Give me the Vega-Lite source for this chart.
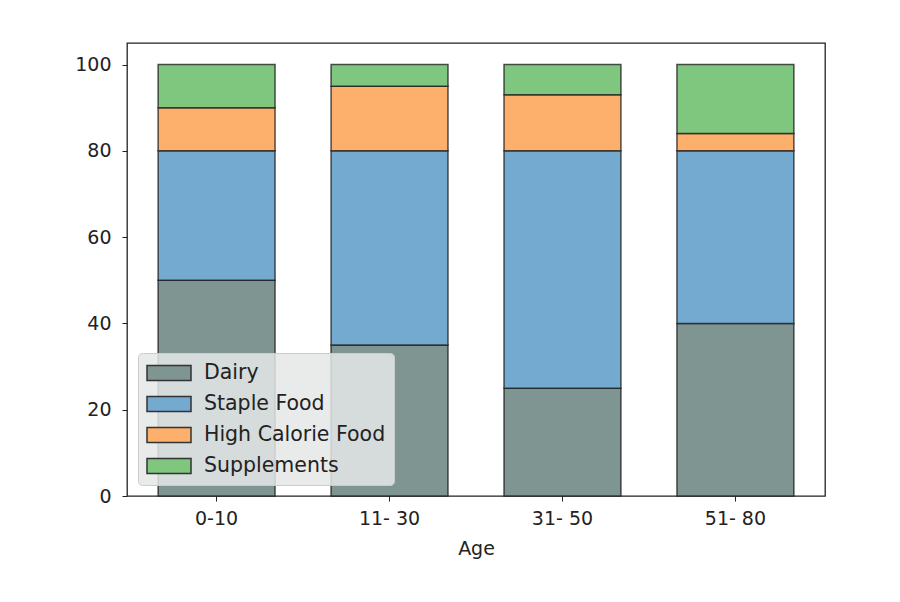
{
  "$schema": "https://vega.github.io/schema/vega-lite/v6.json",
  "width": 698,
  "height": 453,
  "autosize": {"type": "none"},
  "padding": {"left": 127, "top": 43, "right": 75, "bottom": 106},
  "background": "white",
  "config": {
    "font": "DejaVu Sans",
    "view": {"stroke": "#222222", "strokeWidth": 1.3},
    "axis": {"grid": false, "domain": false, "tickColor": "#222222", "tickSize": 5, "labelColor": "#222222", "labelFontSize": 19, "titleFontSize": 19, "titleFontWeight": "normal", "titleColor": "#222222"}
  },
  "data": {
    "values": [
      {"Age": "0-10", "Category": "Dairy", "Value": 50, "ord": 1},
      {"Age": "0-10", "Category": "Staple Food", "Value": 30, "ord": 2},
      {"Age": "0-10", "Category": "High Calorie Food", "Value": 10, "ord": 3},
      {"Age": "0-10", "Category": "Supplements", "Value": 10, "ord": 4},
      {"Age": "11- 30", "Category": "Dairy", "Value": 35, "ord": 1},
      {"Age": "11- 30", "Category": "Staple Food", "Value": 45, "ord": 2},
      {"Age": "11- 30", "Category": "High Calorie Food", "Value": 15, "ord": 3},
      {"Age": "11- 30", "Category": "Supplements", "Value": 5, "ord": 4},
      {"Age": "31- 50", "Category": "Dairy", "Value": 25, "ord": 1},
      {"Age": "31- 50", "Category": "Staple Food", "Value": 55, "ord": 2},
      {"Age": "31- 50", "Category": "High Calorie Food", "Value": 13, "ord": 3},
      {"Age": "31- 50", "Category": "Supplements", "Value": 7, "ord": 4},
      {"Age": "51- 80", "Category": "Dairy", "Value": 40, "ord": 1},
      {"Age": "51- 80", "Category": "Staple Food", "Value": 40, "ord": 2},
      {"Age": "51- 80", "Category": "High Calorie Food", "Value": 4, "ord": 3},
      {"Age": "51- 80", "Category": "Supplements", "Value": 16, "ord": 4}
    ]
  },
  "mark": {"type": "bar", "stroke": "#1a1a1a", "strokeWidth": 1.5, "strokeOpacity": 0.75},
  "encoding": {
    "x": {
      "field": "Age", "type": "nominal", "sort": null,
      "scale": {"paddingInner": 0.324, "paddingOuter": 0.18},
      "axis": {"labelAngle": 0, "title": "Age", "labelPadding": 8, "titlePadding": 11}
    },
    "y": {
      "field": "Value", "type": "quantitative", "stack": "zero",
      "scale": {"domain": [0, 105], "nice": false},
      "axis": {"values": [0, 20, 40, 60, 80, 100], "title": null, "labelPadding": 11}
    },
    "order": {"field": "ord", "type": "quantitative", "sort": "ascending"},
    "color": {
      "field": "Category", "type": "nominal",
      "scale": {
        "domain": ["Dairy", "Staple Food", "High Calorie Food", "Supplements"],
        "range": ["#7f9592", "#75aad0", "#fdb06c", "#7fc67f"]
      },
      "legend": {
        "title": null,
        "orient": "none",
        "legendX": 11,
        "legendY": 310,
        "fillColor": "rgba(229,232,232,0.85)",
        "strokeColor": "#cccccc",
        "cornerRadius": 4,
        "padding": 8,
        "rowPadding": 8,
        "labelFontSize": 20.5,
        "labelLimit": 400,
        "labelColor": "#222222",
        "labelOffset": 34,
        "symbolType": "M-1,-0.68L3,-0.68L3,0.68L-1,0.68Z",
        "symbolSize": 484,
        "symbolStrokeColor": "#333333",
        "symbolStrokeWidth": 1.5,
        "symbolOpacity": 1
      }
    }
  }
}
